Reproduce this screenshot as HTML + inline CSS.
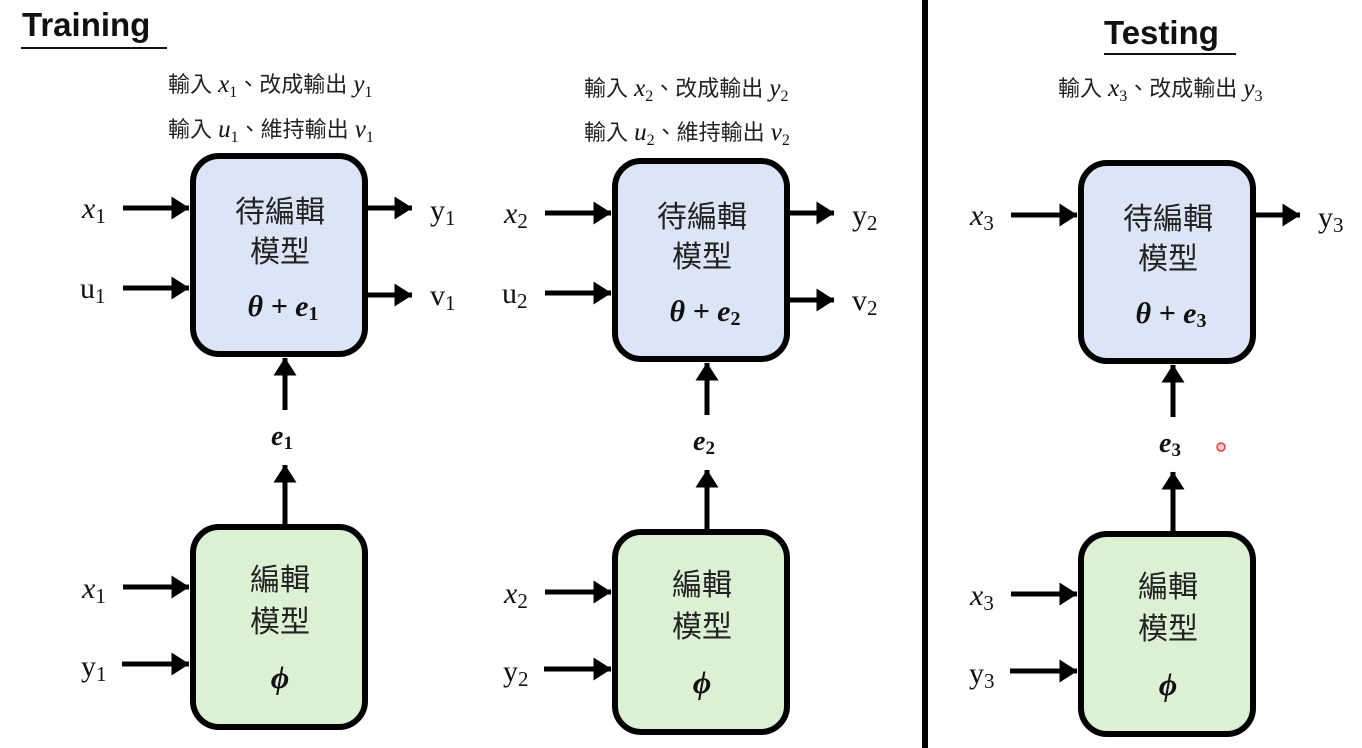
<!DOCTYPE html>
<html><head><meta charset="utf-8"><style>
html,body{margin:0;padding:0;background:#fff}
svg{display:block}
.cj{font-family:"Liberation Sans","Noto Sans CJK TC",sans-serif;fill:#222}
.m{font-family:"Liberation Serif",serif;fill:#111}
.i{font-style:italic}
.b{font-weight:bold;font-style:italic}
</style></head><body>
<svg width="1362" height="748" viewBox="0 0 1362 748" xmlns="http://www.w3.org/2000/svg">
<defs>
<marker id="ah" markerWidth="5" markerHeight="5" refX="3.5" refY="2.4" orient="auto" markerUnits="strokeWidth"><path d="M0,0.1 L3.6,2.4 L0,4.7 z" fill="#000"/></marker>
<g id="col">
 <rect x="193" y="156" width="172" height="198" rx="26" fill="#dbe5f6" stroke="#000" stroke-width="6"/>
 <text class="cj" x="280" y="222" font-size="30" text-anchor="middle">待編輯</text>
 <text class="cj" x="280" y="262" font-size="30" text-anchor="middle">模型</text>
 <rect x="193" y="527" width="172" height="200" rx="26" fill="#dcf0d4" stroke="#000" stroke-width="6"/>
 <text class="cj" x="280" y="590" font-size="30" text-anchor="middle">編輯</text>
 <text class="cj" x="280" y="632" font-size="30" text-anchor="middle">模型</text>
 <text class="m b" x="280" y="688" font-size="32" text-anchor="middle">ϕ</text>
 <line x1="123" y1="208" x2="189" y2="208" stroke="#000" stroke-width="5" marker-end="url(#ah)"/>
 <line x1="123" y1="587" x2="189" y2="587" stroke="#000" stroke-width="5" marker-end="url(#ah)"/>
 <line x1="122" y1="664" x2="189" y2="664" stroke="#000" stroke-width="5" marker-end="url(#ah)"/>
 <line x1="285" y1="524" x2="285" y2="465" stroke="#000" stroke-width="5" marker-end="url(#ah)"/>
 <line x1="285" y1="410" x2="285" y2="358" stroke="#000" stroke-width="5" marker-end="url(#ah)"/>
 <line x1="368" y1="208" x2="412" y2="208" stroke="#000" stroke-width="5" marker-end="url(#ah)"/>
</g>
</defs>

<text x="22" y="36" font-family="Liberation Sans,sans-serif" font-weight="bold" font-size="33" fill="#111">Training</text>
<line x1="21" y1="48" x2="167" y2="48" stroke="#111" stroke-width="2"/>
<text x="1104" y="44" font-family="Liberation Sans,sans-serif" font-weight="bold" font-size="33" fill="#111">Testing</text>
<line x1="1104" y1="54" x2="1236" y2="54" stroke="#111" stroke-width="2"/>
<line x1="925" y1="0" x2="925" y2="748" stroke="#000" stroke-width="6"/>

<!-- column 1 -->
<g>
 <use href="#col"/>
 <text class="m b" x="283" y="316" font-size="30" text-anchor="middle">θ + e<tspan font-size="20" dy="4" font-style="normal">1</tspan></text>
 <text class="m b" x="282" y="445" font-size="28" text-anchor="middle">e<tspan font-size="19" dy="4" font-style="normal">1</tspan></text>
 <line x1="123" y1="288" x2="189" y2="288" stroke="#000" stroke-width="5" marker-end="url(#ah)"/>
 <line x1="368" y1="295" x2="412" y2="295" stroke="#000" stroke-width="5" marker-end="url(#ah)"/>
 <text class="m i" x="82" y="218" font-size="30">x<tspan font-style="normal" font-size="21" dy="5">1</tspan></text>
 <text class="m" x="80" y="298" font-size="30">u<tspan font-size="21" dy="5">1</tspan></text>
 <text class="m i" x="82" y="598" font-size="30">x<tspan font-style="normal" font-size="21" dy="5">1</tspan></text>
 <text class="m" x="81" y="676" font-size="30">y<tspan font-size="21" dy="5">1</tspan></text>
 <text class="m" x="430" y="220" font-size="30">y<tspan font-size="21" dy="5">1</tspan></text>
 <text class="m" x="430" y="305" font-size="30">v<tspan font-size="21" dy="5">1</tspan></text>
</g>
<text class="cj" x="168" y="92" font-size="22">輸入 <tspan class="m i" font-size="25">x<tspan font-style="normal" font-size="16" dy="5">1</tspan></tspan><tspan dy="-5">、改成輸出 </tspan><tspan class="m i" font-size="25">y<tspan font-style="normal" font-size="16" dy="5">1</tspan></tspan></text>
<text class="cj" x="168" y="137" font-size="22">輸入 <tspan class="m i" font-size="25">u<tspan font-style="normal" font-size="16" dy="5">1</tspan></tspan><tspan dy="-5">、維持輸出 </tspan><tspan class="m i" font-size="25">v<tspan font-style="normal" font-size="16" dy="5">1</tspan></tspan></text>

<!-- column 2 -->
<g transform="translate(422,5)">
 <use href="#col"/>
 <text class="m b" x="283" y="316" font-size="30" text-anchor="middle">θ + e<tspan font-size="20" dy="4" font-style="normal">2</tspan></text>
 <text class="m b" x="282" y="445" font-size="28" text-anchor="middle">e<tspan font-size="19" dy="4" font-style="normal">2</tspan></text>
 <line x1="123" y1="288" x2="189" y2="288" stroke="#000" stroke-width="5" marker-end="url(#ah)"/>
 <line x1="368" y1="295" x2="412" y2="295" stroke="#000" stroke-width="5" marker-end="url(#ah)"/>
 <text class="m" x="80" y="298" font-size="30">u<tspan font-size="21" dy="5">2</tspan></text>
 <text class="m" x="430" y="220" font-size="30">y<tspan font-size="21" dy="5">2</tspan></text>
 <text class="m" x="430" y="305" font-size="30">v<tspan font-size="21" dy="5">2</tspan></text>
 <text class="m i" x="82" y="218" font-size="30">x<tspan font-style="normal" font-size="21" dy="5">2</tspan></text>
 <text class="m i" x="82" y="598" font-size="30">x<tspan font-style="normal" font-size="21" dy="5">2</tspan></text>
 <text class="m" x="81" y="676" font-size="30">y<tspan font-size="21" dy="5">2</tspan></text>
</g>
<text class="cj" x="584" y="96" font-size="22">輸入 <tspan class="m i" font-size="25">x<tspan font-style="normal" font-size="16" dy="5">2</tspan></tspan><tspan dy="-5">、改成輸出 </tspan><tspan class="m i" font-size="25">y<tspan font-style="normal" font-size="16" dy="5">2</tspan></tspan></text>
<text class="cj" x="584" y="140" font-size="22">輸入 <tspan class="m i" font-size="25">u<tspan font-style="normal" font-size="16" dy="5">2</tspan></tspan><tspan dy="-5">、維持輸出 </tspan><tspan class="m i" font-size="25">v<tspan font-style="normal" font-size="16" dy="5">2</tspan></tspan></text>

<!-- column 3 -->
<g transform="translate(888,7)">
 <use href="#col"/>
 <text class="m b" x="283" y="316" font-size="30" text-anchor="middle">θ + e<tspan font-size="20" dy="4" font-style="normal">3</tspan></text>
 <text class="m b" x="282" y="445" font-size="28" text-anchor="middle">e<tspan font-size="19" dy="4" font-style="normal">3</tspan></text>
 <text class="m" x="430" y="220" font-size="30">y<tspan font-size="21" dy="5">3</tspan></text>
 <text class="m i" x="82" y="218" font-size="30">x<tspan font-style="normal" font-size="21" dy="5">3</tspan></text>
 <text class="m i" x="82" y="598" font-size="30">x<tspan font-style="normal" font-size="21" dy="5">3</tspan></text>
 <text class="m" x="81" y="676" font-size="30">y<tspan font-size="21" dy="5">3</tspan></text>
</g>
<text class="cj" x="1058" y="96" font-size="22">輸入 <tspan class="m i" font-size="25">x<tspan font-style="normal" font-size="16" dy="5">3</tspan></tspan><tspan dy="-5">、改成輸出 </tspan><tspan class="m i" font-size="25">y<tspan font-style="normal" font-size="16" dy="5">3</tspan></tspan></text>
<circle cx="1221" cy="447" r="4" fill="#f6c9c9" stroke="#e04040" stroke-width="1.5"/>
</svg>
</body></html>
